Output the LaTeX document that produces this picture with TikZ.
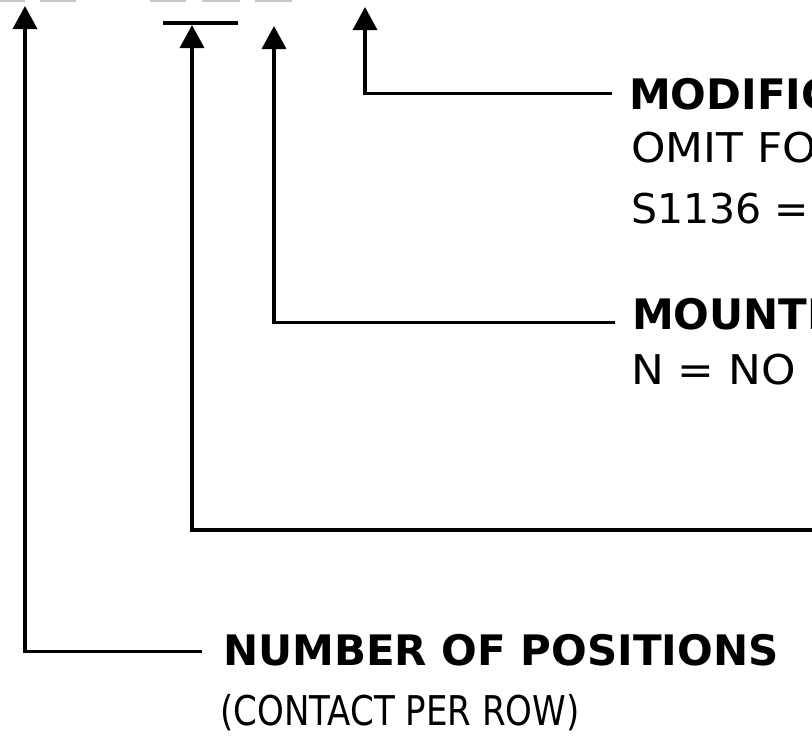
\documentclass[tikz,border=0pt]{standalone}
\usepackage{fontspec}
\setmainfont{DejaVu Sans}
\newfontfamily\narrowfont{DejaVu Sans}[FakeStretch=0.83]
\newfontfamily\widefont{DejaVu Sans}[FakeStretch=1.07]
\usetikzlibrary{arrows.meta}

\begin{document}
\begin{tikzpicture}[x=1pt, y=-1pt]
		\tikzstyle{heading} = [anchor=base west, inner xsep=17pt, inner ysep=0pt, font=\fontsize{42}{50}\selectfont\bfseries]
		
		\tikzstyle{detail} = [anchor=base west, inner sep=0pt, font=\fontsize{41}{50}\selectfont]
		
		\tikzstyle{arrow} = [-{Triangle[length=23pt, width=24pt]}, line width=3.5pt]
		
		\useasboundingbox (0,0) rectangle (812,736);
		
		% Slivers of the code line above the picture
		\foreach \a/\b in {0/25, 40/76, 150/186, 202/240, 255/292}
			\fill [black!22] (\a,0) rectangle (\b,1.5);
		\draw [line width=4pt] (163,23) -- (238,23);
		
		% Arrow tips under the code
		\coordinate (tipA) at (25,6);
		\coordinate (tipB) at (192,25);
		\coordinate (tipC) at (274,26);
		\coordinate (tipD) at (365,7);
		\coordinate (endB) at (816,530);
		
		% Labels
		\node (modif) [heading] at (612,109) {MODIFIC};
		\node (omit) [detail, font=\fontsize{41}{50}\widefont] at ([xshift=19pt, yshift=-53pt]modif.base west) {OMIT FO};
		\node (sopt) [detail] at ([xshift=19pt, yshift=-114pt]modif.base west) {S1136 =};
		
		\node (mount) [heading] at (615,329) {MOUNTI};
		\node (nopeg) [detail, font=\fontsize{41}{50}\widefont] at ([xshift=16pt, yshift=-55pt]mount.base west) {N = NO};
		
		\node (number) [heading, inner xsep=21pt] at (202,665) {NUMBER OF POSITIONS};
		\node (contact) [detail, font=\fontsize{41}{50}\narrowfont] at ([xshift=18pt, yshift=-60pt]number.base west) {(CONTACT PER ROW)};
		
		% Arrows
		\draw [arrow] (modif.west) -| (tipD);
		\draw [arrow] ([yshift=-9pt]mount.west) -| (tipC);
		\draw [arrow] (endB) -| (tipB);
		\draw [arrow] ([yshift=-2pt]number.west) -| (tipA);
	\end{tikzpicture}
\end{document}
